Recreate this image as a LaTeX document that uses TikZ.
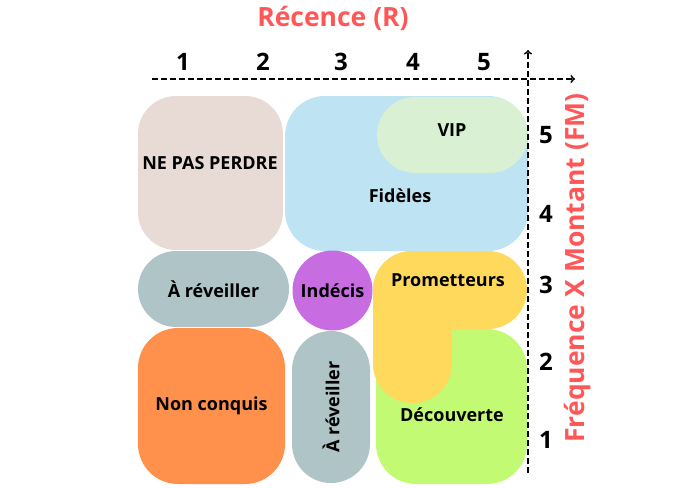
\documentclass[tikz,border=0pt]{standalone}
\usepackage{fontspec}
\setmainfont{Open Sans}
\usetikzlibrary{shapes, arrows}
\definecolor{beigeZone}{HTML}{E8DAD4}
\definecolor{blueZone}{HTML}{BEE3F2}
\definecolor{vipZone}{HTML}{D9F0D3}
\definecolor{greyZone}{HTML}{AFC4C7}
\definecolor{purpleZone}{HTML}{C86CE2}
\definecolor{yellowZone}{HTML}{FFD95C}
\definecolor{greenZone}{HTML}{C2FA74}
\definecolor{orangeZone}{HTML}{FF914D}
\definecolor{titleRed}{HTML}{FF5757}
\tikzstyle{zone} = [rectangle, inner sep=0pt, outer sep=0pt,
    font=\fontsize{18}{21}\selectfont\bfseries]
\tikzstyle{lbl} = [inner sep=0pt, font=\fontsize{18}{21}\selectfont\bfseries]
\tikzstyle{tick} = [inner sep=0pt, font=\fontsize{24}{28}\selectfont\bfseries]
\tikzstyle{title} = [inner sep=0pt, text=titleRed,
    font=\fontsize{26.5}{31}\selectfont\bfseries]
\tikzstyle{axis} = [draw, -{to[scale=1.3]}, dash pattern=on 6pt off 3pt, line width=1.8pt]

\begin{document}
\begin{tikzpicture}[x=1pt, y=-1pt]
        \useasboundingbox (0,0) rectangle (690,487);
        % Place zones
        \node [zone, fill=beigeZone, minimum width=145pt, minimum height=154pt, rounded corners=38pt] (nepasperdre) at (210.5,173) {};
        \node [lbl] (nepasperdreTxt) at (210,163) {NE PAS PERDRE};
        \node [zone, fill=blueZone, minimum width=243pt, minimum height=155pt, rounded corners=40pt] (fideles) at (406.5,173.5) {};
        \node [lbl] (fidelesTxt) at (400,196) {Fidèles};
        \node [zone, fill=vipZone, minimum width=151pt, minimum height=76pt, rounded corners=38pt] (vip) at (452.5,135) {};
        \node [lbl] (vipTxt) at (452,130) {VIP};
        \node [zone, fill=greyZone, minimum width=151pt, minimum height=76pt, rounded corners=38pt] (reveillerH) at (213.5,289) {À réveiller};
        \node [zone, circle, fill=purpleZone, minimum size=80pt] (indecis) at (332.5,290.5) {Indécis};
        \node [zone, fill=greenZone, minimum width=151pt, minimum height=155pt, rounded corners=40pt] (decouverte) at (451.5,406.5) {};
        \node [lbl] (decouverteTxt) at (452,415) {Découverte};
        \node [zone, fill=yellowZone, minimum width=154pt, minimum height=78pt, rounded corners=39pt] (prometteursH) at (450,290) {};
        \node [zone, fill=yellowZone, minimum width=79pt, minimum height=152pt, rounded corners=39pt] (prometteursV) at (412.5,327) {};
        \node [lbl] (prometteursTxt) at (448,280) {Prometteurs};
        \node [zone, fill=orangeZone, minimum width=147pt, minimum height=156pt, rounded corners=40pt] (nonconquis) at (211.5,406) {Non conquis};
        \node [zone, fill=greyZone, rotate=90, minimum width=152pt, minimum height=78pt, rounded corners=39pt] (reveillerV) at (331,407) {À réveiller};
        % Axes
        \coordinate (xstart) at (152,79);
        \coordinate (xend) at (575,79);
        \coordinate (ystart) at (528,473);
        \coordinate (yend) at (528,50);
        \path [axis] (xstart) -- (xend);
        \path [axis] (ystart) -- (yend);
        \node [title] (recence) at (333,18) {Récence (R)};
        \node [title, rotate=90] (frequence) at (578,268) {Fréquence X Montant (FM)};
        % Scores
        \node [tick] (r1) at (183,62) {1};
        \node [tick] (r2) at (263,62) {2};
        \node [tick] (r3) at (341,62) {3};
        \node [tick] (r4) at (413,62) {4};
        \node [tick] (r5) at (484,62) {5};
        \node [tick] (fm5) at (546,135) {5};
        \node [tick] (fm4) at (546,214) {4};
        \node [tick] (fm3) at (546,285) {3};
        \node [tick] (fm2) at (546,362) {2};
        \node [tick] (fm1) at (546,440) {1};
    \end{tikzpicture}
\end{document}
